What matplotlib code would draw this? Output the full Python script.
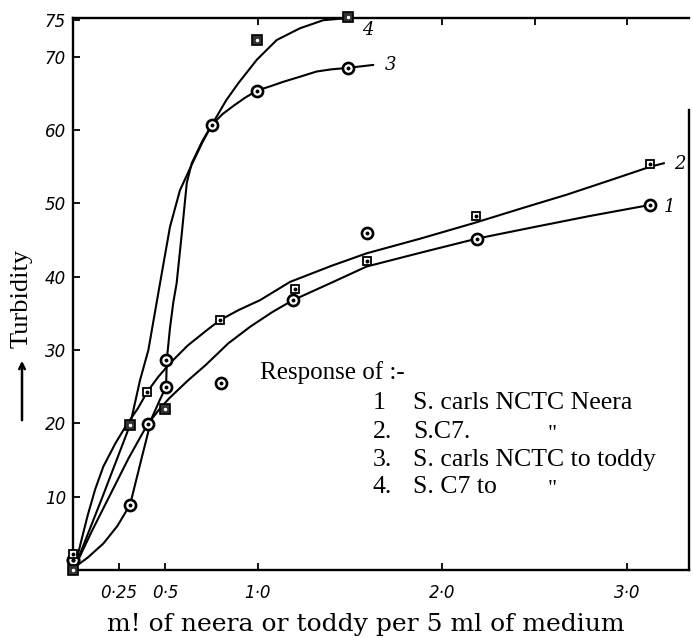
import matplotlib
matplotlib.use("Agg")
import matplotlib.pyplot as plt

# Punktid (markerid), loetud pildilt
c1_x = [0.0, 0.404, 0.80, 1.19, 1.59, 2.186, 3.124]
c1_y = [1.4, 19.9, 25.5, 36.8, 46.0, 45.2, 49.8]
c2_x = [0.0, 0.402, 0.796, 1.20, 1.59, 2.182, 3.124]
c2_y = [2.2, 24.3, 34.1, 38.4, 42.1, 48.3, 55.4]
c3_x = [0.0, 0.309, 0.504, 0.504, 0.751, 0.996, 1.49]
c3_y = [1.4, 8.9, 25.0, 28.7, 60.7, 65.4, 68.5]
c4_x = [0.0, 0.309, 0.50, 0.995, 1.49]
c4_y = [0.0, 19.8, 21.9, 72.3, 75.4]

# Kasitsi joonistatud kurvid, loetud pildilt
l1_x = [0.01, 0.1, 0.2, 0.3, 0.404, 0.47, 0.52, 0.62, 0.72, 0.84, 0.96, 1.08,
        1.19, 1.4, 1.59, 1.9, 2.186, 2.5, 2.8, 3.124]
l1_y = [0.4, 5.2, 10.2, 15.2, 19.9, 22.0, 23.4, 25.8, 28.0, 30.9, 33.2, 35.2,
        36.8, 39.2, 41.4, 43.4, 45.2, 46.8, 48.3, 49.8]
l2_x = [0.01, 0.04, 0.08, 0.12, 0.164, 0.23, 0.29, 0.35, 0.402, 0.46, 0.525,
        0.62, 0.724, 0.796, 0.90, 1.012, 1.175, 1.40, 1.59, 1.88, 2.167, 2.45,
        2.673, 2.9, 3.124, 3.2]
l2_y = [0.4, 3.5, 7.5, 11.0, 14.1, 17.3, 19.8, 22.0, 24.3, 26.3, 28.2, 30.6,
        32.7, 34.1, 35.5, 36.8, 39.3, 41.5, 43.2, 45.2, 47.3, 49.5, 51.2, 53.1,
        55.0, 55.5]
l3_x = [0.01, 0.08, 0.164, 0.24, 0.309, 0.372, 0.426, 0.47, 0.504, 0.508,
        0.525, 0.543, 0.561, 0.589, 0.616, 0.643, 0.70, 0.751, 0.81, 0.868,
        0.93, 0.996, 1.07, 1.139, 1.23, 1.319, 1.40, 1.49, 1.626]
l3_y = [0.4, 1.7, 3.6, 6.0, 8.9, 15.3, 20.7, 23.2, 25.0, 28.7, 33.0, 36.5,
        39.1, 45.9, 52.8, 55.5, 58.5, 60.7, 62.2, 63.3, 64.4, 65.4, 66.0, 66.6,
        67.3, 68.0, 68.3, 68.5, 68.9]
l4_x = [0.01, 0.16, 0.309, 0.363, 0.408, 0.471, 0.525, 0.579, 0.643, 0.70,
        0.751, 0.83, 0.895, 0.995, 1.103, 1.229, 1.355, 1.49]
l4_y = [0.4, 10.0, 19.8, 25.9, 30.0, 39.1, 46.8, 51.8, 55.3, 58.3, 60.7, 64.1,
        66.4, 69.6, 72.3, 73.9, 75.0, 75.3]

curve_labels = ["1", "2", "3", "4"]
label_x = [3.20, 3.255, 1.69, 1.563]
label_y = [49.5, 55.4, 68.9, 73.7]

x_ticks = [0.25, 0.5, 1.0, 2.0, 3.0]
x_tick_labels = ["0\u00b725", "0\u00b75", "1\u00b70", "2\u00b70", "3\u00b70"]
top_ticks = [1.0, 2.0, 2.5, 3.0]
y_ticks = [10, 20, 30, 40, 50, 60, 70, 75]
y_tick_labels = ["10", "20", "30", "40", "50", "60", "70", "75"]

legend_nums = ["1", "2.", "3.", "4."]
legend_names = ["S. carls NCTC Neera", "S.C7.", "S. carls NCTC to toddy", "S. C7 to"]
ditto_rows = [1, 3]

fig = plt.figure(figsize=(6.93, 6.38), dpi=100)
ax = fig.add_axes([73 / 693, 1 - 570 / 638, (689 - 73) / 693, (570 - 18) / 638])

lw = 1.5
for lx, ly in [(l1_x, l1_y), (l2_x, l2_y), (l3_x, l3_y), (l4_x, l4_y)]:
    ax.plot(lx, ly, color="black", lw=lw, solid_capstyle="round")

circle = dict(ls="none", marker="o", ms=8, mfc="white", mec="black", mew=1.9,
              clip_on=False, zorder=3)
ax.plot(c1_x, c1_y, **circle)
ax.plot(c3_x, c3_y, **circle)
ax.plot(c2_x, c2_y, ls="none", marker="s", ms=5.5, mfc="white", mec="black",
        mew=1.3, clip_on=False, zorder=3)
ax.plot(c4_x, c4_y, ls="none", marker="s", ms=7, mfc="#333333", mec="black",
        mew=1.2, clip_on=False, zorder=3)
# taeppid keskel
for px, py in [(c1_x, c1_y), (c3_x, c3_y), (c2_x, c2_y)]:
    ax.plot(px, py, ls="none", marker="o", ms=1.8, color="black",
            clip_on=False, zorder=4)
ax.plot(c4_x, c4_y, ls="none", marker="o", ms=1.5, color="white",
        clip_on=False, zorder=4)

for t, tx, ty in zip(curve_labels, label_x, label_y):
    ax.text(tx, ty, t, fontsize=13, style="italic", family="DejaVu Serif",
            ha="left", va="center")

ax.set_xlim(0, 3.335)
ax.set_ylim(0, 75.3)
ax.set_xticks(x_ticks)
ax.set_xticklabels(x_tick_labels, fontsize=12, style="italic")
ax.set_yticks(y_ticks)
ax.set_yticklabels(y_tick_labels, fontsize=12, style="italic")
ax.tick_params(axis="both", direction="in", length=5, width=1.3)
ax.tick_params(axis="x", pad=10)
ax.tick_params(axis="y", pad=5)

top = ax.secondary_xaxis("top")
top.set_xticks(top_ticks)
top.tick_params(direction="in", length=5, width=1.3, labeltop=False)
top.spines["top"].set_visible(False)

for s in ["left", "bottom", "top", "right"]:
    ax.spines[s].set_linewidth(1.7)
ax.spines["right"].set_bounds(0, 62.7)

# legend tekstina
ax.text(1.012, 26.9, "Response of :-", fontsize=18, family="Liberation Serif",
        ha="left", va="center")
row_y = [22.8, 18.8, 15.0, 11.3]
for num, name, ry in zip(legend_nums, legend_names, row_y):
    ax.text(1.624, ry, num, fontsize=18.5, family="Liberation Serif",
            ha="left", va="center")
    ax.text(1.84, ry, name, fontsize=18.5, family="Liberation Serif",
            ha="left", va="center")
for r in ditto_rows:
    ax.text(2.57, row_y[r] - 0.3, '"', fontsize=16, family="Liberation Serif",
            ha="left", va="center")

fig.text(366 / 693, 1 - 624 / 638, "m! of neera or toddy per 5 ml of medium",
         fontsize=18, family="DejaVu Serif", ha="center", va="center")
fig.text(22 / 693, 1 - 298 / 638, "Turbidity", fontsize=19,
         family="Liberation Serif", rotation=90, ha="center", va="center")
ax.annotate("", xy=(22 / 693, 1 - 358 / 638), xytext=(22 / 693, 1 - 423 / 638),
            xycoords="figure fraction", textcoords="figure fraction",
            arrowprops=dict(arrowstyle="->", lw=1.8, color="black"))

fig.savefig("out.png", dpi=100)
